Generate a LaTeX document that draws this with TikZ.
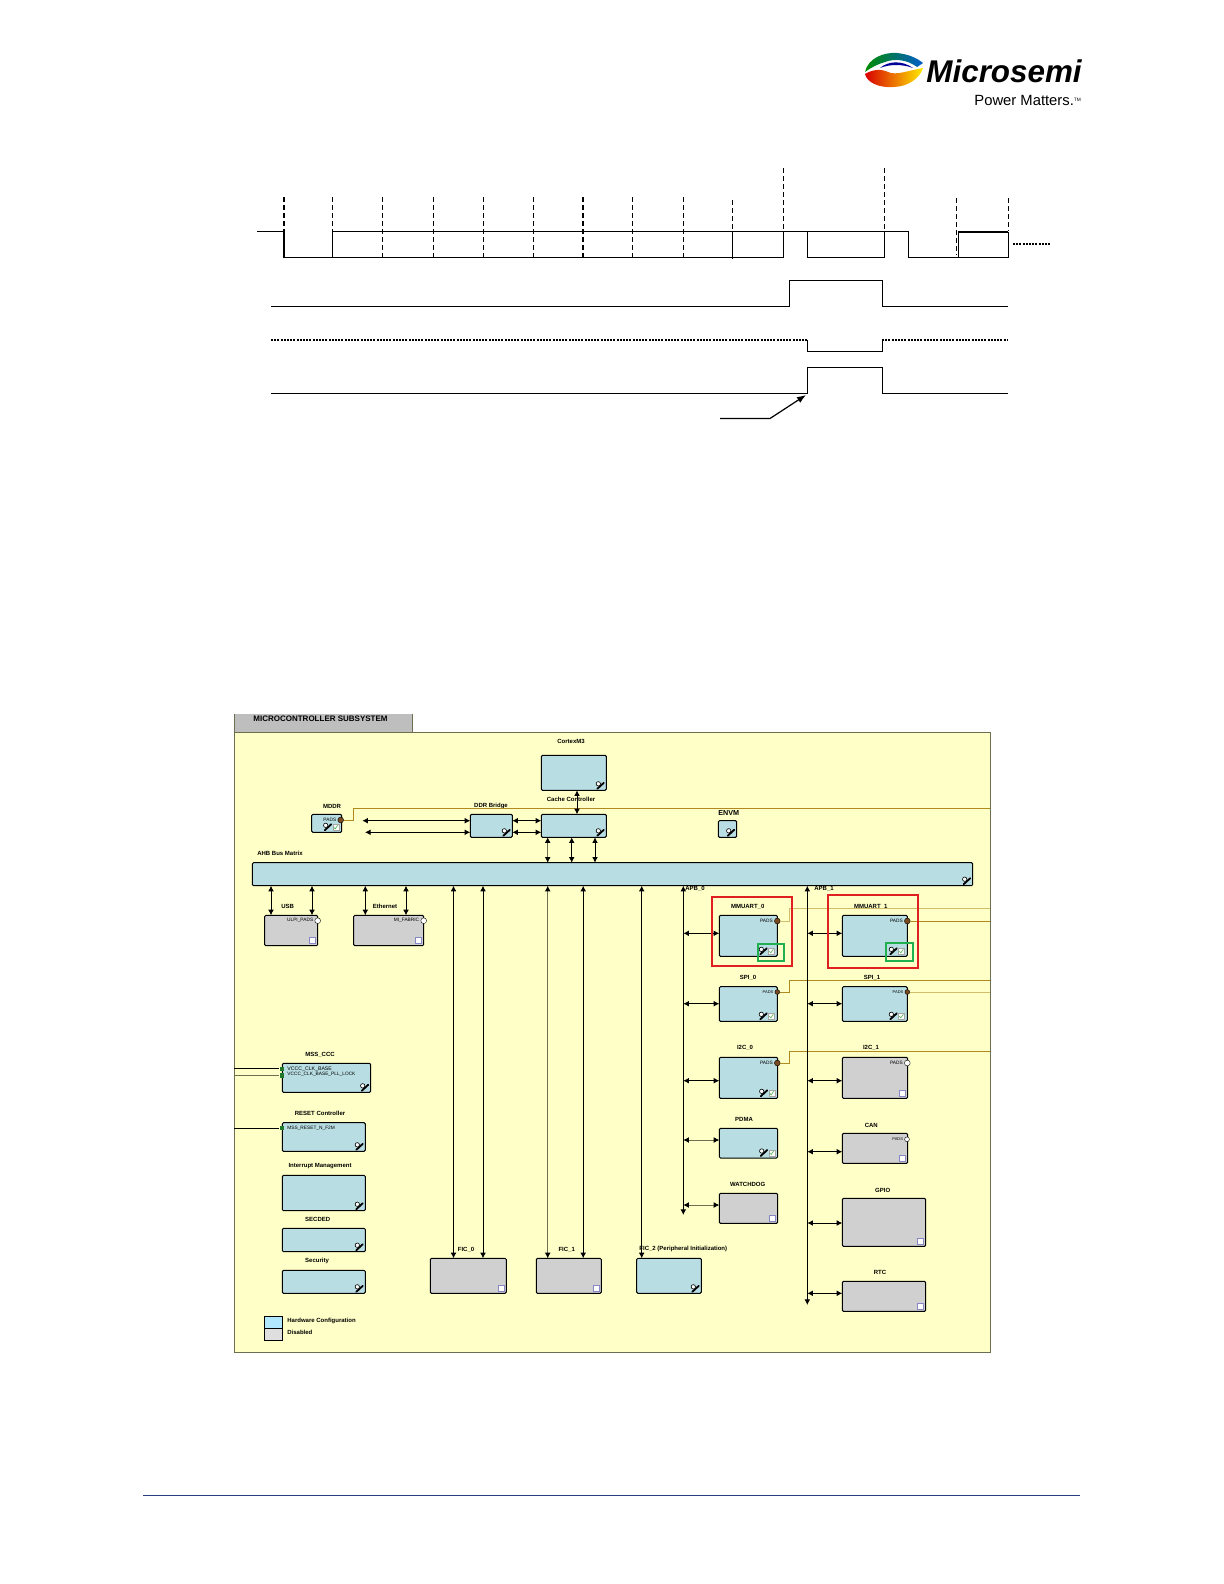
\documentclass[tikz,border=0pt]{standalone}
\usepackage{fontspec}
\setmainfont{Liberation Sans}
\usepackage{xcolor}
\usetikzlibrary{arrows.meta,positioning}
\definecolor{hwblue}{HTML}{B8DDE2}
\definecolor{offgray}{HTML}{D0D0D0}
\definecolor{panelyel}{HTML}{FFFFC8}
\definecolor{tabgray}{HTML}{BEBEBE}
\definecolor{wiregold}{HTML}{B08A1E}
\definecolor{wirepale}{HTML}{D2BE6A}
\definecolor{portbrown}{HTML}{7A4A20}
\definecolor{portgreen}{HTML}{1E7A2A}
\definecolor{busolive}{HTML}{6E6E50}
\definecolor{redmark}{HTML}{E02020}
\definecolor{greenmark}{HTML}{20B050}
\definecolor{footblue}{HTML}{2A3F80}
\newcommand{\toolicon}[1]{\begin{scope}[shift={(#1.south east)}]
  \draw[line width=.9pt,line cap=round] (-9,-1.5) -- (-2.5,-7.5);
  \draw[line width=.3pt,fill=white] (-8,-6.5) circle (2.2);
\end{scope}}
\newcommand{\toolcheck}[1]{\begin{scope}[shift={(#1.south east)}]
  \draw[line width=.9pt,line cap=round] (-17,-2) -- (-10.5,-8);
  \draw[line width=.3pt,fill=white] (-16,-7) circle (2.2);
  \draw[line width=.2pt,gray!70,fill=white] (-9,-8) rectangle (-3,-2);
  \draw[line width=.3pt,green!60!black!70] (-8,-5) -- (-6.5,-3.5) -- (-4,-7);
\end{scope}}
\newcommand{\blankcheck}[1]{\begin{scope}[shift={(#1.south east)}]
  \draw[line width=.3pt,blue!35!gray!70,fill=white] (-8,-8) rectangle (-2,-2);
\end{scope}}
\begin{document}
\begin{tikzpicture}[
  x=0.5pt,y=-0.5pt,
  font=\fontsize{3}{3.4}\selectfont\bfseries,
  sz/.style 2 args={minimum width=#1*0.5pt,minimum height=#2*0.5pt},
  hwbox/.style={draw,rounded corners=.6pt,line width=.5pt,fill=hwblue,inner sep=0pt,
                outer sep=0pt,anchor=north west},
  offbox/.style={hwbox,fill=offgray},
  lbl/.style={inner sep=0pt},
  padtxt/.style={inner sep=0pt,font=\fontsize{2.4}{2.6}\selectfont},
  portb/.style={circle,draw=black,line width=.2pt,fill=portbrown,inner sep=0pt,minimum size=2.9pt},
  portw/.style={portb,fill=white},
  portg/.style={rectangle,fill=portgreen,inner sep=0pt,minimum size=2.2pt},
  dbl/.style={{Latex[length=2.8pt,width=2.9pt,black]}-{Latex[length=2.8pt,width=2.9pt,black]},line width=.5pt},
  dblthin/.style={dbl,line width=.4pt,busolive},
  bus/.style={dbl},
  wire/.style={line width=.45pt,wiregold},
  palewire/.style={line width=.35pt,wirepale},
  sig/.style={line width=.45pt},
  tick/.style={line width=.3pt,dash pattern=on 2.4pt off 1.6pt},
  tickb/.style={line width=.65pt,dash pattern=on 2.4pt off 1.6pt},
  dots/.style={line width=.7pt,dash pattern=on 1pt off .6pt},
  markred/.style={draw=redmark,line width=1pt},
  markgreen/.style={draw=greenmark,line width=1pt}
]
\useasboundingbox (0,0) rectangle (1224,1584);
% logo
\shade[left color=green!55!black,right color=blue!55!cyan!80!black] (865,72) .. controls (868,58) and (884,52) .. (897,53)
  .. controls (908,54) and (917,58) .. (923,63) -- (917,67) .. controls (908,60) and (895,58) .. (885,62)
  .. controls (878,64) and (872,67) .. cycle;
\fill[blue!60!black] (880,68) .. controls (888,61) and (902,60) .. (913,68) .. controls (902,64) and (890,64) .. cycle;
\shade[left color=red!85!black,right color=yellow!85!orange] (865,74) .. controls (867,83) and (880,88) .. (893,87)
  .. controls (908,87) and (920,78) .. (923,68) .. controls (910,70) and (896,76) .. (888,72)
  .. controls (882,69) and (873,69) .. cycle;
\node[lbl,font=\fontsize{15.7}{17}\selectfont\bfseries\itshape,anchor=west] (logotxt) at (926,71) {Microsemi};
\node[lbl,font=\fontsize{7.4}{8}\selectfont,anchor=west] (logosub) at (974,100) {Power Matters.\raisebox{2pt}{\fontsize{2.4}{3}\selectfont TM}};
% timing
\foreach \xpos in {332.5,433,483,533,632,683} \draw[tick] (\xpos,197) -- (\xpos,257);
\foreach \xpos in {382.6,583} \draw[tickb] (\xpos,197) -- (\xpos,257);
\draw[tickb] (284,197) -- (284,231);
\draw[tick] (732,200) -- (732,231);
\draw[tick] (783,168) -- (783,231);
\draw[tick] (884,168) -- (884,231);
\draw[tick] (956,198) -- (956,255);
\draw[tick] (1008,198) -- (1008,231);
\draw[sig] (257,231) -- (284,231);
\draw[sig,line width=.8pt] (284,231) -- (284,257.5) -- (332.5,257.5);
\draw[sig] (332.5,257.5) -- (332.5,231) -- (908,231) -- (908,257.5) -- (958,257.5) -- (958,232) (958,257.5) -- (1008,257.5) -- (1008,232);
\draw[sig] (332.5,257.5) -- (783,257.5) -- (783,231);
\draw[sig] (732,231) -- (732,259);
\draw[sig] (807,231) -- (807,257.5) -- (884,257.5) -- (884,231);
\draw[line width=1pt] (958,232) -- (1008,232);
\draw[dots] (1013,244) -- (1050,244);
\draw[sig] (271,306) -- (789,306) -- (789,280.5) -- (882,280.5) -- (882,306) -- (1008,306);
\draw[dots] (271,340) -- (807,340);
\draw[sig] (807,340) -- (807,351) -- (882,351) -- (882,340);
\draw[dots] (882,340) -- (1008,340);
\draw[sig] (271,393) -- (807,393) -- (807,367.5) -- (882,367.5) -- (882,393) -- (1008,393);
\draw[sig,line width=.6pt,-{Latex[length=4.5pt,width=3.4pt]}] (720,418.5) -- (770,418.5) -- (806,395);
% panel
\draw[draw=busolive,fill=tabgray,line width=.4pt] (234.3,714) -- (234.3,732) -- (412.7,732) -- (412.7,714);
\node[lbl,font=\fontsize{4}{4.5}\selectfont\bfseries,anchor=west] (paneltxt) at (253,719) {MICROCONTROLLER SUBSYSTEM};
\node[draw=busolive,fill=panelyel,line width=.5pt,inner sep=0pt,outer sep=0pt,anchor=north west,sz={755.7}{620}] (panel) at (234.3,732) {};
% blocks
\node[hwbox,sz={65}{35}] (cortex) at (541.3,755.3) {};
\node[hwbox,sz={65}{23}] (cache) at (541.3,814.3) {};
\node[hwbox,sz={42}{23}] (ddrb) at (470.3,814.3) {};
\node[hwbox,sz={30}{18}] (mddr) at (311.7,814.3) {};
\node[hwbox,sz={18.4}{16.6}] (envm) at (718.3,820.7) {};
\node[hwbox,sz={720.4}{23}] (ahb) at (252.3,862.7) {};
\node[offbox,sz={53}{30.4}] (usb) at (264.7,915.3) {};
\node[offbox,sz={70}{30.4}] (eth) at (353.7,915.3) {};
\node[hwbox,sz={58}{41}] (uart0) at (719.3,915.3) {};
\node[hwbox,sz={65}{41}] (uart1) at (842.3,915.3) {};
\node[hwbox,sz={58}{34.6}] (spi0) at (719.3,986.7) {};
\node[hwbox,sz={65}{34.6}] (spi1) at (842.3,986.7) {};
\node[hwbox,sz={58.4}{41}] (iic0) at (719.3,1057.3) {};
\node[offbox,sz={65.4}{41}] (iic1) at (842.3,1057.3) {};
\node[hwbox,sz={58.4}{29.7}] (pdma) at (719.3,1128.3) {};
\node[offbox,sz={65.4}{30}] (can) at (842.3,1133.3) {};
\node[offbox,sz={58.4}{30}] (wdog) at (719.3,1193.3) {};
\node[offbox,sz={83.4}{48}] (gpio) at (842.3,1198.3) {};
\node[offbox,sz={83.4}{30}] (rtc) at (842.3,1281.3) {};
\node[offbox,sz={76}{35}] (fic0) at (430.3,1258.3) {};
\node[offbox,sz={65}{35}] (fic1) at (536.3,1258.3) {};
\node[hwbox,sz={64.6}{35}] (fic2) at (636.7,1258.3) {};
\node[hwbox,sz={88.4}{29}] (ccc) at (282.3,1063.3) {};
\node[hwbox,sz={83}{28.6}] (reset) at (282.3,1122.7) {};
\node[hwbox,sz={83}{35.4}] (irq) at (282.3,1175.3) {};
\node[hwbox,sz={83}{23.4}] (secded) at (282.3,1228.3) {};
\node[hwbox,sz={83}{23}] (secur) at (282.3,1270.3) {};
% labels
\node[lbl] (cortexl) at (571,741) {CortexM3};
\node[lbl] (cachel) at (571,799.5) {Cache Controller};
\node[lbl] (ddrbl) at (491,806) {DDR Bridge};
\node[lbl] (mddrl) at (332,806) {MDDR};
\node[lbl,font=\fontsize{3.6}{4}\selectfont\bfseries] (envml) at (728.7,813.3) {ENVM};
\node[lbl] (ahbl) at (280,853) {AHB Bus Matrix};
\node[lbl] (usbl) at (287.7,906.7) {USB};
\node[lbl] (ethl) at (385,906.7) {Ethernet};
\node[lbl] (apb0l) at (695,889) {APB\_0};
\node[lbl] (apb1l) at (824,889) {APB\_1};
\node[lbl] (uart0l) at (747.7,906.3) {MMUART\_0};
\node[lbl] (uart1l) at (870.7,906.3) {MMUART\_1};
\node[lbl] (spi0l) at (748,977.7) {SPI\_0};
\node[lbl] (spi1l) at (872,977.7) {SPI\_1};
\node[lbl] (iic0l) at (745,1048) {I2C\_0};
\node[lbl] (iic1l) at (871,1048) {I2C\_1};
\node[lbl] (pdmal) at (744,1119.3) {PDMA};
\node[lbl] (canl) at (871.3,1125.3) {CAN};
\node[lbl] (wdogl) at (747.7,1184.3) {WATCHDOG};
\node[lbl] (gpiol) at (882.7,1190.3) {GPIO};
\node[lbl] (rtcl) at (880,1272.7) {RTC};
\node[lbl] (fic0l) at (466,1249.3) {FIC\_0};
\node[lbl] (fic1l) at (566.7,1249.3) {FIC\_1};
\node[lbl] (fic2l) at (683.3,1249.3) {FIC\_2 (Peripheral Initialization)};
\node[lbl] (cccl) at (320,1054.7) {MSS\_CCC};
\node[lbl] (resetl) at (320,1113) {RESET Controller};
\node[lbl] (irql) at (320,1166.3) {Interrupt Management};
\node[lbl] (secdedl) at (317.7,1219.3) {SECDED};
\node[lbl] (securl) at (317,1261) {Security};
% ports
\node[portb] (mddrp) at (340.7,820) {};
\node[portw] (usbp) at (317.7,920.7) {};
\node[portw] (ethp) at (423.7,920.7) {};
\node[portb] (uart0p) at (777.3,921) {};
\node[portb] (uart1p) at (907.3,921) {};
\node[portb,minimum size=2.4pt] (spi0p) at (777.3,992) {};
\node[portb,minimum size=2.4pt] (spi1p) at (907.3,992) {};
\node[portb] (iic0p) at (777.3,1063) {};
\node[portw] (iic1p) at (907.3,1063) {};
\node[portw,minimum size=2.4pt] (canp) at (907,1139.3) {};
\node[portg] (cccpa) at (281.7,1068.7) {};
\node[portg] (cccpb) at (281.7,1075.3) {};
\node[portg] (resetp) at (281.7,1128) {};
\node[padtxt,left=.5pt of mddrp] (mddrt) {PADS};
\node[padtxt,left=.5pt of usbp] (usbt) {ULPI\_PADS};
\node[padtxt,left=.5pt of ethp] (etht) {MI\_FABRIC};
\node[padtxt,left=.5pt of uart0p] (uart0t) {PADS};
\node[padtxt,left=.5pt of uart1p] (uart1t) {PADS};
\node[padtxt,left=.5pt of spi0p,font=\fontsize{2}{2.2}\selectfont] (spi0t) {PADS};
\node[padtxt,left=.5pt of spi1p,font=\fontsize{2}{2.2}\selectfont] (spi1t) {PADS};
\node[padtxt,left=.5pt of iic0p] (iic0t) {PADS};
\node[padtxt,left=.5pt of iic1p] (iic1t) {PADS};
\node[padtxt,left=.5pt of canp,font=\fontsize{2}{2.2}\selectfont] (cant) {PADS};
\node[padtxt,anchor=west,font=\fontsize{2.6}{2.8}\selectfont] (cccta) at (287,1069) {VCCC\_CLK\_BASE};
\node[padtxt,anchor=west,font=\fontsize{2.4}{2.6}\selectfont] (ccctb) at (287,1074.7) {VCCC\_CLK\_BASE\_PLL\_LOCK};
\node[padtxt,anchor=west] (resett) at (287,1128) {MSS\_RESET\_N\_F2M};
% icons
\toolicon{cortex}\toolicon{cache}\toolicon{ddrb}\toolicon{envm}\toolicon{ahb}\toolicon{fic2}
\toolicon{ccc}\toolicon{reset}\toolicon{irq}\toolicon{secded}\toolicon{secur}
\toolcheck{mddr}\toolcheck{uart0}\toolcheck{uart1}\toolcheck{spi0}\toolcheck{spi1}\toolcheck{iic0}\toolcheck{pdma}
\blankcheck{usb}\blankcheck{eth}\blankcheck{iic1}\blankcheck{can}\blankcheck{wdog}\blankcheck{gpio}\blankcheck{rtc}
\blankcheck{fic0}\blankcheck{fic1}
% wires
\coordinate (rimddr) at (990,808.3);
\coordinate (riuart0) at (990,908.3);
\coordinate (riuart1) at (990,921);
\coordinate (rispi0) at (990,980.7);
\coordinate (rispi1) at (990,992);
\coordinate (riiic0) at (990,1051.7);
\coordinate (lfccca) at (234,1068.7);
\coordinate (lfcccb) at (234,1075.3);
\coordinate (lfreset) at (234,1128);
\draw[wire] (mddrp) -| (353,808.3) -- (rimddr);
\draw[palewire] (uart0p) -| (789.3,908.3) -- (riuart0);
\draw[wire] (uart1p) -- (riuart1);
\draw[wire] (spi0p) -| (789.3,980.7) -- (rispi0);
\draw[palewire] (spi1p) -- (rispi1);
\draw[wire] (iic0p) -| (789.3,1051.7) -- (riiic0);
\draw[line width=.5pt] (lfccca) -- (cccpa);
\draw[line width=.35pt,busolive] (lfcccb) -- (cccpb);
\draw[line width=.5pt] (lfreset) -- (resetp);
% buses
\coordinate (ddrla) at (362.3,820.7);
\coordinate (ddrlb) at (365,832.3);
\coordinate (apb0) at (683.3,885.7);
\coordinate (apb1) at (807.3,885.7);
\coordinate (apb0e) at (683.3,1215);
\coordinate (apb1e) at (807.3,1305);
\draw[bus] (apb0) -- (apb0e);
\draw[bus] (apb1) -- (apb1e);
\draw[dbl] (ddrla) -- (ddrb.west |- ddrla);
\draw[dbl] (ddrlb) -- (ddrb.west |- ddrlb);
\draw[dbl] (ddrb.east |- ddrla) -- (cache.west |- ddrla);
\draw[dbl] (ddrb.east |- ddrlb) -- (cache.west |- ddrlb);
\draw[dbl] (577,0 |- cortex.south) -- (577,0 |- cache.north);
\draw[dblthin] (547.7,0 |- cache.south) -- (547.7,0 |- ahb.north);
\draw[dbl] (571.7,0 |- cache.south) -- (571.7,0 |- ahb.north);
\draw[dbl] (595,0 |- cache.south) -- (595,0 |- ahb.north);
\draw[dbl] (271,0 |- ahb.south) -- (271,0 |- usb.north);
\draw[dbl] (312,0 |- ahb.south) -- (312,0 |- usb.north);
\draw[dbl] (365.3,0 |- ahb.south) -- (365.3,0 |- eth.north);
\draw[dbl] (406,0 |- ahb.south) -- (406,0 |- eth.north);
\draw[dbl] (453.5,0 |- ahb.south) -- (453.5,0 |- fic0.north);
\draw[dbl] (483,0 |- ahb.south) -- (483,0 |- fic0.north);
\draw[dblthin] (547.7,0 |- ahb.south) -- (547.7,0 |- fic1.north);
\draw[dbl] (583.2,0 |- ahb.south) -- (583.2,0 |- fic1.north);
\draw[dbl] (641.7,0 |- ahb.south) -- (641.7,0 |- fic2.north);
\draw[dbl] (apb0 |- 0,933.3) -- (uart0.west |- 0,933.3);
\draw[dbl] (apb0 |- 0,1003.7) -- (spi0.west |- 0,1003.7);
\draw[dbl] (apb0 |- 0,1080.7) -- (iic0.west |- 0,1080.7);
\draw[dblthin] (apb0 |- 0,1140) -- (pdma.west |- 0,1140);
\draw[dblthin] (apb0 |- 0,1205) -- (wdog.west |- 0,1205);
\draw[dbl] (apb1 |- 0,933.3) -- (uart1.west |- 0,933.3);
\draw[dbl] (apb1 |- 0,1003.7) -- (spi1.west |- 0,1003.7);
\draw[dbl] (apb1 |- 0,1080.7) -- (iic1.west |- 0,1080.7);
\draw[dbl] (apb1 |- 0,1151.7) -- (can.west |- 0,1151.7);
\draw[dbl] (apb1 |- 0,1223) -- (gpio.west |- 0,1223);
\draw[dbl] (apb1 |- 0,1293.3) -- (rtc.west |- 0,1293.3);
% red and green marks
\draw[markred] (711.7,897.3) rectangle (792.3,966);
\draw[markred] (827.7,895) rectangle (918.3,968);
\draw[markgreen] (757.7,944.3) rectangle (784.3,961.3);
\draw[markgreen] (885.7,943.3) rectangle (912.7,961.3);
% legend
\node[draw,fill=blue!30!cyan!30,line width=.3pt,inner sep=0pt,outer sep=0pt,anchor=north west,sz={18}{12}] (leghw) at (264.3,1316.3) {};
\node[draw,fill=gray!25,line width=.3pt,inner sep=0pt,outer sep=0pt,anchor=north west,sz={18}{12}] (legoff) at (264.3,1328.3) {};
\node[lbl,anchor=west] (leghwt) at (287,1320.7) {Hardware Configuration};
\node[lbl,anchor=west] (legofft) at (287,1332.7) {Disabled};
% footer
\draw[footblue,line width=.4pt] (143.4,1495.6) -- (1079.6,1495.6);
\end{tikzpicture}
\end{document}
